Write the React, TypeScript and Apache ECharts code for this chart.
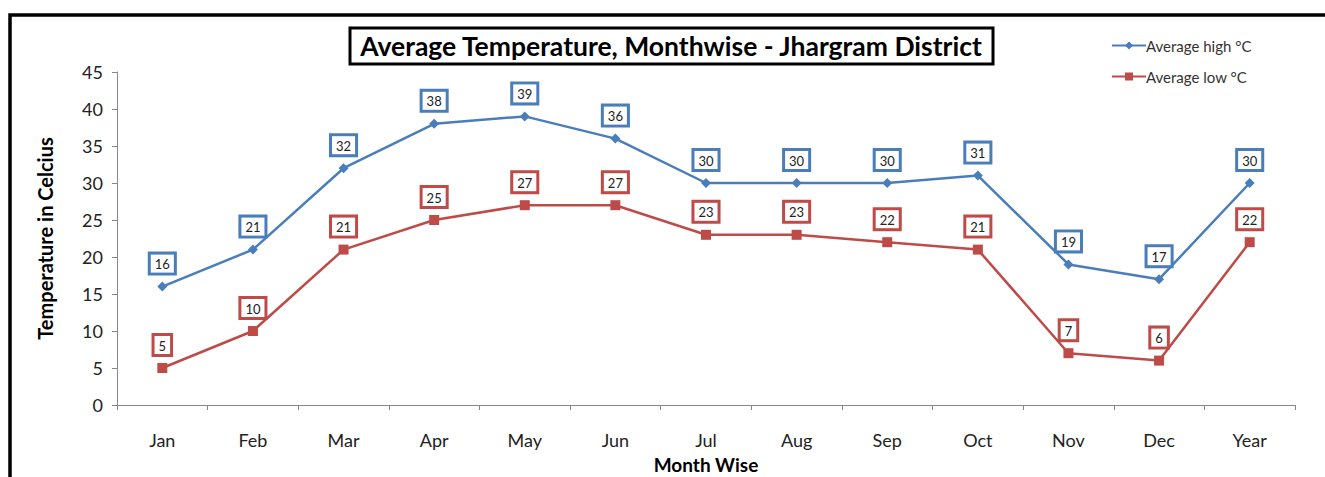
import React, { useEffect, useRef } from "react";
import * as echarts from "echarts";

const categories = ["Jan", "Feb", "Mar", "Apr", "May", "Jun", "Jul", "Aug", "Sep", "Oct", "Nov", "Dec", "Year"];
const averageHigh = [16, 21, 32, 38, 39, 36, 30, 30, 30, 31, 19, 17, 30];
const averageLow = [5, 10, 21, 25, 27, 27, 23, 23, 22, 21, 7, 6, 22];
const titleText = "Average Temperature, Monthwise - Jhargram District";
const highName = "Average high °C";
const lowName = "Average low °C";

const FONT = "Lato, 'Open Sans', sans-serif";
const BLUE = "#4A7EBB";
const RED = "#BE4B48";

export default function App() {
  const ref = useRef<HTMLDivElement>(null);
  useEffect(() => {
    document.body.style.margin = "0";
    const chart = echarts.init(ref.current!, null, { renderer: "svg" });
    const label = (color: string) => ({
      show: true,
      position: "top",
      distance: 9,
      color: "#222",
      fontSize: 13,
      fontFamily: FONT,
      backgroundColor: "#fff",
      borderColor: color,
      borderWidth: 3,
      padding: [3, 4, 2, 4],
    });
    chart.setOption({
      animation: false,
      backgroundColor: "#fff",
      grid: { left: 117, right: 30, top: 72, bottom: 72, containLabel: false, outerBoundsMode: "none" },
      graphic: [
        {
          type: "rect",
          shape: { x: 10, y: 15, width: 1400, height: 500 },
          style: { fill: "none", stroke: "#000", lineWidth: 3.5 },
          silent: true,
        },
        {
          type: "rect",
          shape: { x: 350, y: 28, width: 643, height: 36 },
          style: { fill: "#fff", stroke: "#000", lineWidth: 3 },
          silent: true,
        },
        {
          type: "text",
          x: 671,
          y: 46,
          style: {
            text: titleText,
            font: `bold 26.5px ${FONT}`,
            fill: "#000",
            align: "center",
            verticalAlign: "middle",
          },
        },
      ],
      legend: {
        orient: "vertical",
        left: 1106,
        top: 33,
        itemWidth: 34,
        itemHeight: 10,
        itemGap: 16,
        textStyle: { fontFamily: FONT, fontSize: 15, color: "#333", padding: [0, 0, 0, -5] },
        data: [highName, lowName],
      },
      xAxis: {
        type: "category",
        data: categories,
        boundaryGap: true,
        name: "Month Wise",
        nameLocation: "middle",
        nameGap: 50,
        nameTextStyle: { fontFamily: FONT, fontSize: 19, fontWeight: "bold", color: "#000" },
        axisLine: { lineStyle: { color: "#868686", width: 1 } },
        axisTick: { show: true, alignWithLabel: false, length: 5, lineStyle: { color: "#868686" } },
        axisLabel: { fontFamily: FONT, fontSize: 18, color: "#222", margin: 26 },
      },
      yAxis: {
        type: "value",
        min: 0,
        max: 45,
        interval: 5,
        name: "Temperature in Celcius",
        nameLocation: "middle",
        nameGap: 62,
        nameTextStyle: { fontFamily: FONT, fontSize: 20, fontWeight: "bold", color: "#000" },
        axisLine: { show: true, lineStyle: { color: "#868686", width: 1 } },
        axisTick: { show: true, length: 5, lineStyle: { color: "#868686" } },
        axisLabel: { fontFamily: FONT, fontSize: 18, color: "#222", margin: 14 },
        splitLine: { show: false },
      },
      series: [
        {
          name: highName,
          type: "line",
          data: averageHigh,
          symbol: "diamond",
          symbolSize: 10,
          lineStyle: { color: BLUE, width: 2.5 },
          itemStyle: { color: BLUE },
          label: label(BLUE),
        },
        {
          name: lowName,
          type: "line",
          data: averageLow,
          symbol: "rect",
          symbolSize: 10,
          lineStyle: { color: RED, width: 2.5 },
          itemStyle: { color: RED },
          label: label(RED),
        },
      ],
    });
    return () => chart.dispose();
  }, []);
  return <div ref={ref} style={{ width: 1325, height: 477 }} />;
}
